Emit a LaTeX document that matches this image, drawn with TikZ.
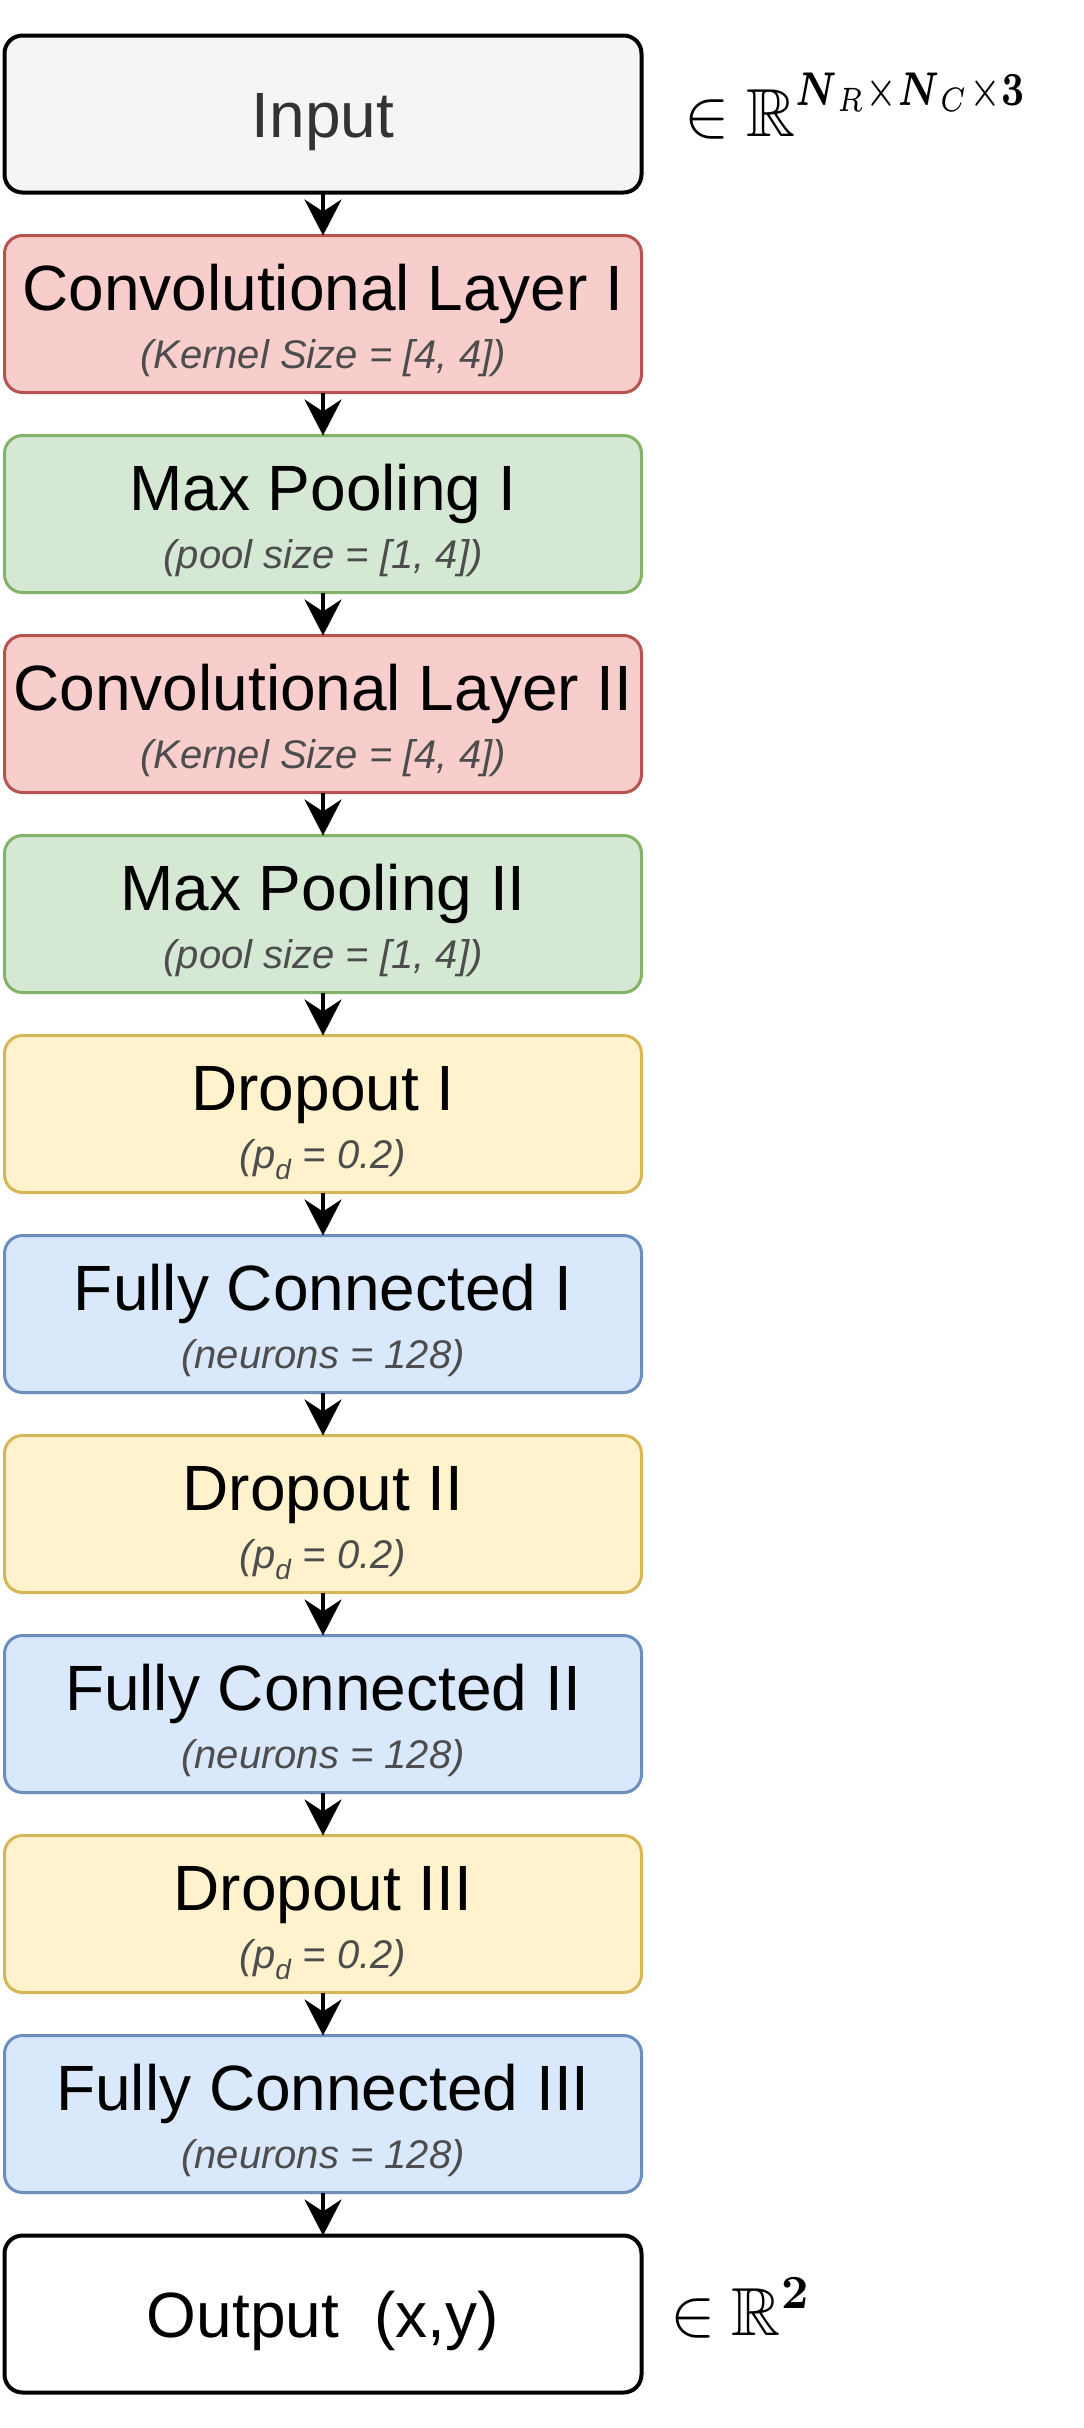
\documentclass[tikz,border=0pt]{standalone}
\usepackage[no-math]{fontspec}
\setsansfont{Liberation Sans}
\usepackage{amsmath,amssymb}
\usetikzlibrary{arrows.meta,calc}
\definecolor{redF}{HTML}{F8CECC}\definecolor{redS}{HTML}{B85450}
\definecolor{grnF}{HTML}{D5E8D4}\definecolor{grnS}{HTML}{82B366}
\definecolor{yelF}{HTML}{FFF2CC}\definecolor{yelS}{HTML}{D6B656}
\definecolor{bluF}{HTML}{DAE8FC}\definecolor{bluS}{HTML}{6C8EBF}
\definecolor{gryF}{HTML}{F5F5F5}\definecolor{gryT}{HTML}{333333}
\definecolor{subT}{HTML}{4D4D4D}
\tikzset{
  box/.style={rounded corners=18pt, minimum width=637pt, minimum height=157pt, line width=3pt, outer sep=0pt, inner sep=0pt},
  redbox/.style={box, fill=redF, draw=redS},
  grnbox/.style={box, fill=grnF, draw=grnS},
  yelbox/.style={box, fill=yelF, draw=yelS},
  blubox/.style={box, fill=bluF, draw=bluS},
  ttl/.style={font=\sffamily\fontsize{64}{70}\selectfont, anchor=base, inner sep=0pt},
  sub/.style={font=\sffamily\itshape\fontsize{40}{44}\selectfont, text=subT, anchor=base, inner sep=0pt},
  mth/.style={anchor=base west, inner sep=0pt},
  arr/.style={line width=4pt, -{Stealth[length=36pt,width=37pt,inset=12pt]}}
}
\begin{document}
\begin{tikzpicture}[x=1pt,y=-1pt]
\fill[white] (0,0) rectangle (1084,2428);
\useasboundingbox (0,0) rectangle (1084,2428);
% Input
\node[box, fill=gryF, draw=black, line width=4pt] (in) at (323,114) {};
\node[ttl, text=gryT] (int) at (323,137) {Input};
\node[mth] (inm1) at (684,136) {\scalebox{6.8}{$\in$}};
\node[mth] (inm2) at (746,136) {\scalebox{6.8}{$\mathbb{R}$}};
\node[mth] (inm3) at (795,105) {\resizebox{229pt}{32.5pt}{$\scriptstyle\boldsymbol{N}_R\times\boldsymbol{N}_C\times\mathbf{3}$}};
% Conv I
\node[redbox] (c1) at (323,314) {};
\node[ttl] (c1t) at (323,310) {Convolutional Layer I};
\node[sub] (c1s) at (323,368) {(Kernel Size = [4, 4])};
% Max Pool I
\node[grnbox] (m1) at (323,514) {};
\node[ttl] (m1t) at (323,510) {Max Pooling I};
\node[sub] (m1s) at (323,568) {(pool size = [1, 4])};
% Conv II
\node[redbox] (c2) at (323,714) {};
\node[ttl] (c2t) at (323,710) {Convolutional Layer II};
\node[sub] (c2s) at (323,768) {(Kernel Size = [4, 4])};
% Max Pool II
\node[grnbox] (m2) at (323,914) {};
\node[ttl] (m2t) at (323,910) {Max Pooling II};
\node[sub] (m2s) at (323,968) {(pool size = [1, 4])};
% Dropout I
\node[yelbox] (d1) at (323,1114) {};
\node[ttl] (d1t) at (323,1110) {Dropout I};
\node[sub] (d1s) at (323,1168) {(p\textsubscript{d} = 0.2)};
% FC I
\node[blubox] (f1) at (323,1314) {};
\node[ttl] (f1t) at (323,1310) {Fully Connected I};
\node[sub] (f1s) at (323,1368) {(neurons = 128)};
% Dropout II
\node[yelbox] (d2) at (323,1514) {};
\node[ttl] (d2t) at (323,1510) {Dropout II};
\node[sub] (d2s) at (323,1568) {(p\textsubscript{d} = 0.2)};
% FC II
\node[blubox] (f2) at (323,1714) {};
\node[ttl] (f2t) at (323,1710) {Fully Connected II};
\node[sub] (f2s) at (323,1768) {(neurons = 128)};
% Dropout III
\node[yelbox] (d3) at (323,1914) {};
\node[ttl] (d3t) at (323,1910) {Dropout III};
\node[sub] (d3s) at (323,1968) {(p\textsubscript{d} = 0.2)};
% FC III
\node[blubox] (f3) at (323,2114) {};
\node[ttl] (f3t) at (323,2110) {Fully Connected III};
\node[sub] (f3s) at (323,2168) {(neurons = 128)};
% Output
\node[box, fill=white, draw=black, line width=4pt] (out) at (323,2314) {};
\node[ttl] (outt) at (323,2337) {Output\ \ (x,y)};
\node[mth] (outm1) at (670,2335) {\scalebox{6.8}{$\in$}};
\node[mth] (outm2) at (731,2335) {\scalebox{6.8}{$\mathbb{R}$}};
\node[mth] (outm3) at (781,2308) {\scalebox{4.76}{$\mathbf{2}$}};
% arrows
\draw[arr] (in.south) -- (c1.north);
\draw[arr] (c1.south) -- (m1.north);
\draw[arr] (m1.south) -- (c2.north);
\draw[arr] (c2.south) -- (m2.north);
\draw[arr] (m2.south) -- (d1.north);
\draw[arr] (d1.south) -- (f1.north);
\draw[arr] (f1.south) -- (d2.north);
\draw[arr] (d2.south) -- (f2.north);
\draw[arr] (f2.south) -- (d3.north);
\draw[arr] (d3.south) -- (f3.north);
\draw[arr] (f3.south) -- (out.north);
\end{tikzpicture}
\end{document}
